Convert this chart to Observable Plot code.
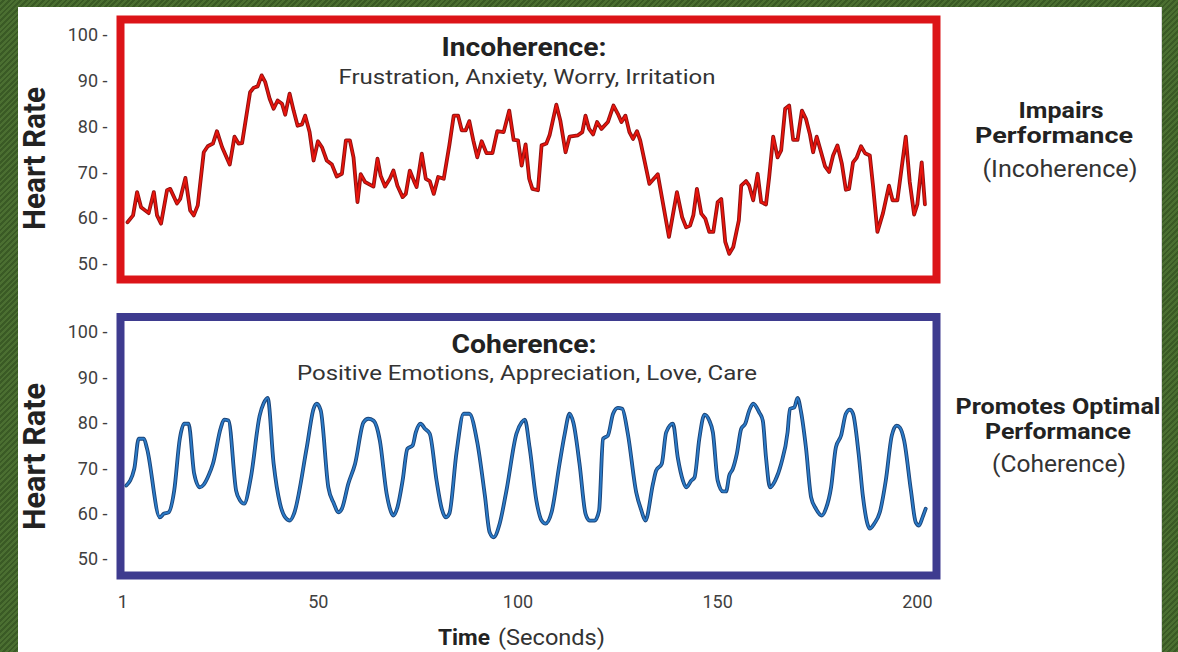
<!DOCTYPE html>
<html>
<head>
<meta charset="utf-8">
<script src="https://cdn.jsdelivr.net/npm/d3@7"></script>
<script src="https://cdn.jsdelivr.net/npm/@observablehq/plot@0.6"></script>
<style>
html,body{margin:0;padding:0;width:1178px;height:652px;overflow:hidden;}
body{position:relative;font-family:Roboto,sans-serif;
  background:repeating-linear-gradient(135deg,#4b6f31 0px,#4b6f31 2px,#3a5a25 2px,#3a5a25 4px);}
#sheet{position:absolute;left:18px;top:7px;width:1143px;height:645px;background:#fff;border-right:1px solid #d8d8d8;}
.plot{position:absolute;left:0;}
#overlay{position:absolute;left:0;top:0;pointer-events:none;}
</style>
</head>
<body>
<div id="sheet"></div>
<div id="top" class="plot" style="top:0px"></div>
<div id="bottom" class="plot" style="top:300px"></div>
<script>
// ---------- data ----------
const incoTime = [2.2,3.6,4.6,5.6,7.5,8.8,9.6,10.6,12.1,12.9,
14.6,15.4,16.7,17.9,18.8,19.8,21.3,22.3,23.6,24.6,
25.9,27.8,29,30,30.9,32.9,33.8,34.8,35.8,36.7,
37.8,38.8,39.8,40.9,41.7,42.8,43.8,44.8,45.9,46.7,
47.8,48.8,49.9,50.9,52.1,53.4,54.6,55.9,56.9,57.9,
58.8,59.8,60.6,61.7,63.8,64.8,65.6,66.7,67.9,68.8,
69.8,71.1,71.9,72.9,73.9,74.6,75.9,76.9,77.9,78.9,
80,81.4,82.8,83.9,85,85.9,86.9,87.8,88.8,89.8,
90.9,92.1,93.6,94.8,96.4,97.8,98.9,100,100.9,101.9,
102.8,103.6,105,105.9,107.1,107.9,109.6,110.6,111.9,112.9,
115,116.1,116.9,117.8,118.8,119.8,120.9,122.5,123.9,125,
125.9,126.9,127.9,128.8,129.8,130.6,132.9,135,137.8,139.8,
141.1,142.1,143.1,143.9,144.8,145.9,146.9,147.9,148.9,150,
150.9,151.9,152.9,153.9,155.3,155.9,157.1,157.9,158.9,160,
160.9,162.1,162.9,163.9,165,165.9,166.9,167.9,168.9,170,
171.1,172.1,173.1,173.9,174.8,175.9,176.9,177.9,178.9,180,
181.1,182.1,182.9,183.9,184.8,185.9,186.9,188.1,188.9,190,
191.4,192.9,193.8,195,197.1,198.1,199.2,200,201.1,201.9];
const incoHR = [59.2,60.7,65.8,62.5,61.2,65.8,60.7,58.9,66.2,66.5,
63.3,64.3,68.9,61.8,60.7,62.9,74.5,75.8,76.4,79.1,
75.6,71.8,77.9,76.4,76.5,87.6,88.6,88.9,91.3,89.8,
86.2,84.0,85.8,85.1,82.7,87.3,83.6,80.3,80.6,82.5,
78.9,72.7,76.9,75.6,72.7,71.8,69.2,69.8,77.1,77.1,
73.4,63.6,69.7,68.0,67.0,73.1,69.4,67.0,68.7,70.5,
67.2,64.7,65.4,70.5,68.3,66.9,74.2,68.7,68.2,65.4,
69.1,68.7,76.0,82.5,82.5,79.3,79.3,81.3,77.1,73.4,
76.9,74.3,74.3,79.1,78.9,83.6,77.2,77.1,71.6,76.2,
68.7,66.5,66.2,76.0,76.4,78.2,84.9,81.4,74.5,77.9,
78.2,78.9,82.5,79.6,78.4,81.1,79.6,81.1,84.7,82.9,
81.1,82.5,78.9,77.4,79.1,77.1,67.6,69.7,56.0,65.8,
60.3,58.1,58.5,60.7,66.5,61.1,60.0,57.1,57.1,63.6,
64.3,54.9,52.3,53.8,59.6,67.2,68.2,67.2,64.0,69.8,
63.6,63.1,69.1,77.9,73.4,74.9,84.0,84.7,77.2,77.2,
83.6,81.8,78.4,74.5,77.9,74.5,71.4,70.2,73.8,76.0,
72.0,66.3,66.5,72.3,73.3,75.8,74.3,73.8,67.2,57.1,
61.2,67.2,64.0,64.0,77.9,68.0,60.9,63.1,72.3,63.1];

const cohTime = [1.9,3.9,5,6.3,7.1,10.3,11.3,12.5,13.9,15.3,
16.4,17.5,18.9,20.3,21.3,22.5,23.6,25.6,26.4,27.5,
29.4,30.4,31.4,33.1,35.3,36.3,37.3,38.8,40.4,41.7,
42.9,43.9,47.1,48.8,49.6,50.6,52.5,53.9,55,55.9,
57.5,59.2,61.3,62.5,63.8,65.4,67.1,68.4,68.8,69.8,
71.1,72.3,73.6,74.4,75.6,76.7,77.9,79.6,80.9,81.9,
82.8,84.6,86.4,87.8,89.8,91.7,92.9,93.9,95.4,97.1,
99.6,100.9,101.7,102.9,104.6,105.9,106.9,108.4,110.4,111.7,
112.9,113.9,115.4,116.9,117.9,119.2,120.3,121.3,122.5,123.8,
125,126.1,127.5,129.6,130.9,131.9,133.8,134.6,136,137.1,
138.8,140,141.3,142.1,143.4,144.2,145.4,146.7,147.9,148.8,
150,151.3,152.1,152.9,153.8,154.8,155.9,156.9,157.9,158.9,
160.4,161.3,162.1,163.1,164.4,165.9,167.5,168.1,169.2,170,
170.9,172.1,173.4,174.6,176.1,177.1,178.4,179.6,180.9,182.1,
183.1,183.9,185.3,186.4,187.5,188.1,189.2,190.6,192.1,193.6,
194.8,195.6,196.7,198.4,199.6,200.4,201.3,202.1];
const cohHR = [66.3,70.0,76.6,76.6,74.4,59.3,60.1,60.4,65.2,76.6,
79.9,79.9,68.9,65.9,66.5,68.5,71.1,79.1,80.8,80.6,
65.2,63.0,62.3,68.1,81.7,84.4,85.6,71.1,62.3,59.3,
58.6,60.1,74.7,83.2,84.3,82.8,65.9,62.3,60.4,61.2,
66.7,71.1,80.2,81.0,80.6,76.2,64.5,60.1,59.7,61.5,
67.4,74.4,75.1,78.0,79.9,78.8,77.7,67.4,61.2,59.3,
60.1,73.6,82.1,82.1,75.8,64.1,56.0,54.9,57.9,65.2,
77.7,80.2,80.8,74.7,63.0,58.6,57.9,60.4,71.1,77.7,
82.1,80.0,71.1,60.1,58.6,58.6,60.8,76.6,77.3,82.1,
83.4,83.2,77.7,64.8,60.8,58.6,66.7,69.6,71.1,78.0,
79.9,72.5,67.4,65.9,67.4,68.1,76.6,81.9,80.6,78.0,
67.4,65.0,65.0,68.5,70.0,73.3,78.8,79.9,82.8,84.3,
82.4,80.6,72.5,65.9,67.4,71.1,78.0,83.2,83.5,85.6,
82.4,74.7,63.7,61.2,59.7,61.2,65.9,74.7,77.3,82.1,
83.0,82.1,73.3,63.7,57.9,56.8,57.9,60.4,67.4,77.3,
79.5,79.1,76.2,65.2,58.2,57.5,59.3,61.2];

const yTicks = [50, 60, 70, 80, 90, 100];
const xTicks = [1, 50, 100, 150, 200];
const panelTitles = ["Incoherence:", "Coherence:"];
const panelSubtitles = ["Frustration, Anxiety, Worry, Irritation", "Positive Emotions, Appreciation, Love, Care"];
const sideBold = [["Impairs", "Performance"], ["Promotes Optimal", "Performance"]];
const sideNote = ["(Incoherence)", "(Coherence)"];
const yLabel = "Heart Rate";
const xLabelBold = "Time";
const xLabelRest = "(Seconds)";

// ---------- panels ----------
function panel({time, hr, frameColor, dark, light, yDomain, height, marginTop, marginBottom, showX, curve}) {
  const data = time.map((t, i) => ({t, hr: hr[i]}));
  const marks = [
    Plot.axisY({ticks: yTicks, tickSize: 0, tickPadding: 13, tickFormat: d => `${d} -`, label: null, fontSize: 18}),
    Plot.line(data, {x: "t", y: "hr", stroke: dark, strokeWidth: 3.8, curve, strokeLinejoin: "round"}),
    Plot.line(data, {x: "t", y: "hr", stroke: light, strokeWidth: 1.9, curve, strokeLinejoin: "round"}),
    Plot.frame({stroke: frameColor, strokeWidth: 8})
  ];
  if (showX) marks.unshift(Plot.axisX({ticks: xTicks, tickSize: 0, tickPadding: 20, label: null, fontSize: 18}));
  return Plot.plot({
    width: 960, height, marginLeft: 120, marginRight: 24, marginTop, marginBottom,
    style: {fontFamily: "Roboto", fontSize: "18px", color: "#404040", background: "transparent", overflow: "visible"},
    x: {domain: [0.45, 204.8], axis: showX ? undefined : null},
    y: {domain: yDomain},
    marks
  });
}

document.getElementById("top").append(panel({
  time: incoTime, hr: incoHR, frameColor: "#dc1418", dark: "#8e1010", light: "#e8140c",
  yDomain: [46.7, 103.5], height: 290, marginTop: 19, marginBottom: 11, showX: false, curve: "linear"
}));
document.getElementById("bottom").append(panel({
  time: cohTime, hr: cohHR, frameColor: "#3e3b8f", dark: "#1b4478", light: "#2b7bc8",
  yDomain: [46.5, 103.4], height: 320, marginTop: 16.5, marginBottom: 45, showX: true, curve: "monotone-x"
}));

// ---------- text overlay ----------
const svg = d3.select("body").append("svg").attr("id", "overlay").attr("width", 1178).attr("height", 652)
  .style("font-family", "Roboto");
function txt(s, x, y, size, weight, fill, len, anchor = "middle", transform = null) {
  const t = svg.append("text").attr("x", x).attr("y", y).attr("text-anchor", anchor)
    .attr("font-size", size).attr("font-weight", weight).attr("fill", fill).text(s);
  if (len) t.attr("textLength", len).attr("lengthAdjust", "spacingAndGlyphs");
  if (transform) t.attr("transform", transform);
  return t;
}
// panel titles
txt(panelTitles[0], 524, 55.5, 26, 700, "#222", 165);
txt(panelSubtitles[0], 527, 83.5, 21, 400, "#333", 377);
txt(panelTitles[1], 524, 352.5, 26, 700, "#222", 145);
txt(panelSubtitles[1], 527, 380, 21, 400, "#333", 460);
// y labels
txt(yLabel, 0, 0, 31, 700, "#222", 143, "middle", "translate(45,158.5) rotate(-90)");
txt(yLabel, 0, 0, 31, 700, "#222", 147, "middle", "translate(45,456.5) rotate(-90)");
// side notes
txt(sideBold[0][0], 1061, 117.5, 21.5, 700, "#222", 85);
txt(sideBold[0][1], 1054, 142.5, 21.5, 700, "#222", 158);
txt(sideNote[0], 1060, 177, 24, 400, "#333", 155);
txt(sideBold[1][0], 1058, 413.5, 21.5, 700, "#222", 205);
txt(sideBold[1][1], 1058, 438.5, 21.5, 700, "#222", 146);
txt(sideNote[1], 1059, 472, 24, 400, "#333", 134);
// x label
txt(xLabelBold, 438, 645, 22, 700, "#222", 52, "start");
txt(xLabelRest, 498, 645, 22, 400, "#333", 107, "start");
</script>
</body>
</html>
